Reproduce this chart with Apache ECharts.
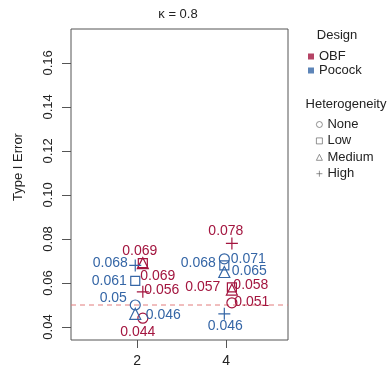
<!DOCTYPE html>
<html>
<head>
<meta charset="utf-8">
<script src="https://cdn.jsdelivr.net/npm/echarts@6/dist/echarts.min.js"></script>
<style>html,body{margin:0;padding:0;background:#fff}#c{width:390px;height:370px}</style>
</head>
<body>
<div id="c"></div>
<script>
// ---- data ----
const categories = [2, 4];
const designs = ['OBF', 'Pocock'];
const heterogeneity = ['None', 'Low', 'Medium', 'High'];
const obfNone = [0.044, 0.051];
const obfLow = [0.069, 0.058];
const obfMedium = [0.069, 0.057];
const obfHigh = [0.056, 0.078];
const pocockNone = [0.05, 0.071];
const pocockLow = [0.061, 0.068];
const pocockMedium = [0.046, 0.065];
const pocockHigh = [0.068, 0.046];
const yTicks = [0.04, 0.06, 0.08, 0.10, 0.12, 0.14, 0.16];
const xTicks = [2, 4];
const referenceLine = 0.05;
const kappa = 0.8;

// ---- styling / layout config ----
const FONT = 'Liberation Sans, Arial, Helvetica, sans-serif';
const colors = { OBF: '#A3153F', Pocock: '#3566A6' };
const refColor = '#E27C7C';
const X_MIN = 0.517, X_MAX = 5.39, Y_MIN = 0.0341, Y_MAX = 0.1754;
const dodge = { OBF: 0.13, Pocock: -0.04 };
const symbols = {
  None: { symbol: 'circle', size: 10 },
  Low: { symbol: 'rect', size: 9 },
  Medium: { symbol: 'triangle', size: 11 },
  High: { symbol: 'path://M5,0L5,10M0,5L10,5', size: 12 }
};
// label offsets (px) relative to each point, mimicking repelled labels
const labelOffsets = {
  OBF: { None: [[-5, 14], [20, -1]], Low: [[15, 13], [19, -2]], Medium: [[-3, -12], [-29, -2]], High: [[19, -2], [-6, -12]] },
  Pocock: { None: [[-22, -7], [24, 0]], Low: [[-26, 0], [-26, -2]], Medium: [[28, 1], [25, -1]], High: [[-25, -2], [1, 12]] }
};
const values = {
  OBF: { None: obfNone, Low: obfLow, Medium: obfMedium, High: obfHigh },
  Pocock: { None: pocockNone, Low: pocockLow, Medium: pocockMedium, High: pocockHigh }
};

const series = [];
// reference line spanning the whole x range
series.push({
  type: 'line', name: 'ref', silent: true, symbol: 'none', z: 1,
  color: refColor,
  lineStyle: { color: refColor, type: [5, 4], width: 1 },
  emphasis: { disabled: true },
  data: [[X_MIN, referenceLine], [X_MAX, referenceLine]]
});
designs.forEach(d => {
  heterogeneity.forEach(h => {
    series.push({
      type: 'scatter',
      name: d + ' ' + h,
      symbol: symbols[h].symbol,
      symbolSize: symbols[h].size,
      itemStyle: { color: 'rgba(0,0,0,0)', borderColor: colors[d], borderWidth: 1.2, opacity: 1 },
      emphasis: { disabled: true },
      z: 3,
      data: categories.map((c, i) => ({
        value: [c + dodge[d], values[d][h][i]],
        label: { offset: labelOffsets[d][h][i] }
      })),
      label: {
        show: true,
        position: 'inside',
        align: 'center',
        verticalAlign: 'middle',
        formatter: p => String(p.value[1]),
        color: colors[d],
        fontSize: 14,
        fontFamily: FONT
      }
    });
  });
});
// legend-only series
designs.forEach(d => series.push({ type: 'scatter', name: d, data: [], itemStyle: { color: colors[d] } }));
heterogeneity.forEach(h => series.push({
  type: 'scatter', name: h, data: [], symbol: symbols[h].symbol,
  itemStyle: { color: 'rgba(0,0,0,0)', borderColor: '#555', borderWidth: 0.8 }
}));

const option = {
  animation: false,
  backgroundColor: '#fff',
  grid: { left: 71, top: 29, right: 102, bottom: 30, show: true, borderColor: '#555', borderWidth: 1, backgroundColor: 'transparent' },
  xAxis: {
    type: 'value', min: X_MIN, max: X_MAX,
    splitLine: { show: false },
    axisLine: { show: false },
    axisTick: { show: true, length: 8, lineStyle: { color: '#555' }, customValues: xTicks },
    axisLabel: { customValues: xTicks, margin: 14, fontSize: 14, color: '#222', fontFamily: FONT }
  },
  yAxis: {
    type: 'value', min: Y_MIN, max: Y_MAX,
    splitLine: { show: false },
    axisLine: { show: false },
    axisTick: { show: true, length: 9, lineStyle: { color: '#555' }, customValues: yTicks },
    axisLabel: { customValues: yTicks, rotate: 90, margin: 16, fontSize: 13, color: '#222', fontFamily: FONT,
      formatter: v => v.toFixed(2) }
  },
  legend: [
    {
      orient: 'vertical', left: 308, top: 50, padding: 0, itemWidth: 6, itemHeight: 6, itemGap: 1,
      selectedMode: false,
      data: designs.map(d => ({ name: d, icon: 'rect' })),
      textStyle: { fontSize: 13, color: '#222', fontFamily: FONT }
    },
    {
      orient: 'vertical', left: 316, top: 118, padding: 0, itemWidth: 6, itemHeight: 6, itemGap: 3.4,
      selectedMode: false,
      data: heterogeneity.map(h => ({ name: h, icon: symbols[h].symbol,
        itemStyle: { color: 'rgba(0,0,0,0)', borderColor: '#555', borderWidth: 0.8 } })),
      textStyle: { fontSize: 13, color: '#222', fontFamily: FONT }
    }
  ],
  graphic: [
    { type: 'text', x: 178, y: 14, style: { text: 'κ = ' + kappa, fontSize: 13, fontFamily: FONT, fill: '#222', align: 'center', verticalAlign: 'middle' } },
    { type: 'text', x: 337, y: 35, style: { text: 'Design', fontSize: 13, fontFamily: FONT, fill: '#222', align: 'center', verticalAlign: 'middle' } },
    { type: 'text', x: 346, y: 104, style: { text: 'Heterogeneity', fontSize: 13, fontFamily: FONT, fill: '#222', align: 'center', verticalAlign: 'middle' } },
    { type: 'text', x: 18, y: 167, rotation: Math.PI / 2, style: { text: 'Type I Error', fontSize: 13, fontFamily: FONT, fill: '#222', align: 'center', verticalAlign: 'middle' } }
  ],
  series: series
};
const chart = echarts.init(document.getElementById('c'), null, { renderer: 'canvas' });
chart.setOption(option);
</script>
</body>
</html>
